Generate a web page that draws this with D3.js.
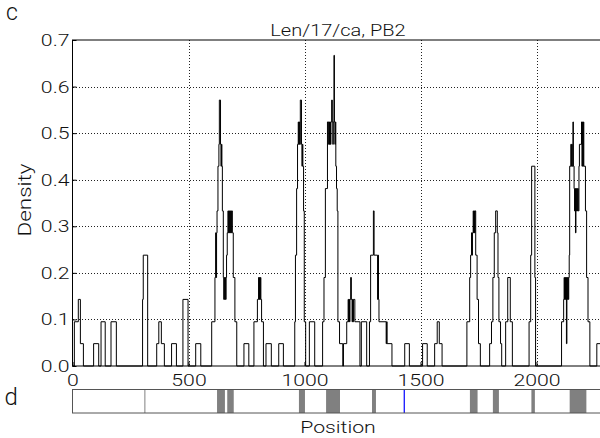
<!DOCTYPE html>
<html>
<head>
<meta charset="utf-8">
<script src="https://cdn.jsdelivr.net/npm/d3@7"></script>
<style>
  html, body { margin: 0; padding: 0; background: #fff; overflow: hidden; }
  svg text { font-family: Roboto, "Liberation Sans", Arial, sans-serif; font-weight: 300; fill: #111; }
</style>
</head>
<body>
<svg id="chart" width="600" height="438"></svg>
<script>
// Sliding-window mutation density along the PB2 segment (step changes).
const stepPos = [
  0, 8, 25, 34, 47, 91, 113, 123, 141, 166, 189,
  302, 305, 324, 363, 372, 383, 396, 427, 448, 476, 498, 531, 553,
  600, 614, 617, 619, 621, 623, 627, 631, 633, 638, 640, 642, 644, 646, 650,
  652, 654, 656, 658, 660, 662, 664, 667, 670, 672, 674, 676, 678, 680, 682, 684, 686,
  689, 693, 700, 708, 739, 760,
  782, 797, 802, 804, 806, 808, 810, 812, 815, 823, 834, 857, 889, 909,
  958, 961, 966, 970, 973, 975, 977, 979, 982, 987, 989, 991, 993, 996, 999, 1005,
  1021, 1044,
  1078, 1084, 1090, 1099, 1104, 1106, 1108, 1110, 1112, 1114, 1117, 1120, 1122, 1124,
  1127, 1129, 1131, 1133, 1135, 1138, 1141, 1144, 1151, 1165,
  1168, 1182, 1188, 1190, 1192, 1194, 1196, 1199, 1202, 1205, 1207, 1209, 1211, 1217, 1239,
  1245, 1268,
  1280, 1285, 1297, 1300, 1315, 1317, 1319, 1321, 1352, 1354, 1356, 1377,
  1432, 1452, 1509, 1529, 1561, 1572, 1581, 1593,
  1700, 1712, 1716, 1720, 1722, 1724, 1727, 1729, 1731, 1733, 1735, 1738, 1744, 1750, 1758,
  1798, 1806, 1812, 1818, 1824, 1831, 1834, 1838, 1845, 1850,
  1867, 1876, 1887, 1896,
  1968, 1975, 1979, 1993, 1996,
  2108, 2117, 2119, 2121, 2123, 2125, 2127, 2129, 2131, 2133, 2135, 2137, 2139, 2141, 2143,
  2148, 2150, 2152, 2154, 2157, 2159, 2162, 2164, 2166, 2168, 2170, 2172, 2174, 2176, 2178, 2180,
  2183, 2185, 2194, 2196, 2198, 2200, 2202, 2204, 2211, 2216, 2222, 2230,
  2260, 2285, 2341
];
const stepDensity = [
  0, 0.095, 0.143, 0.048, 0, 0.048, 0, 0.095, 0, 0.095, 0,
  0.143, 0.238, 0, 0.048, 0.095, 0.048, 0, 0.048, 0, 0.143, 0, 0.048, 0,
  0.095, 0.190, 0.286, 0.190, 0.286, 0.333, 0.429, 0.476, 0.571, 0.476, 0.429, 0.476, 0.429, 0.333, 0.190,
  0.143, 0.190, 0.143, 0.190, 0.143, 0.190, 0.238, 0.286, 0.333, 0.286, 0.333, 0.286, 0.333, 0.286, 0.333, 0.286, 0.333,
  0.286, 0.190, 0.095, 0, 0.048, 0,
  0.095, 0.143, 0.190, 0.143, 0.190, 0.143, 0.190, 0.143, 0.095, 0, 0.048, 0, 0.048, 0,
  0.095, 0.238, 0.381, 0.476, 0.524, 0.476, 0.524, 0.476, 0.571, 0.476, 0.429, 0.476, 0.429, 0.333, 0.095, 0,
  0.095, 0,
  0.095, 0.190, 0.381, 0.524, 0.476, 0.524, 0.476, 0.524, 0.476, 0.524, 0.571, 0.524, 0.476, 0.524,
  0.667, 0.524, 0.476, 0.524, 0.429, 0.381, 0.333, 0.095, 0.048, 0,
  0.048, 0.095, 0.143, 0.095, 0.143, 0.095, 0.143, 0.190, 0.143, 0.095, 0.143, 0.095, 0.143, 0.095, 0,
  0.095, 0,
  0.095, 0.238, 0.333, 0.238, 0.143, 0.238, 0.143, 0.095, 0.048, 0.095, 0.048, 0,
  0.048, 0, 0.048, 0, 0.048, 0.095, 0.048, 0,
  0.095, 0.190, 0.238, 0.286, 0.238, 0.286, 0.333, 0.286, 0.333, 0.286, 0.333, 0.238, 0.143, 0.048, 0,
  0.048, 0.095, 0.190, 0.286, 0.333, 0.286, 0.190, 0.095, 0.048, 0,
  0.095, 0.190, 0.095, 0,
  0.095, 0.238, 0.429, 0.190, 0,
  0.095, 0.143, 0.190, 0.143, 0.190, 0.143, 0.190, 0.048, 0.190, 0.143, 0.190, 0.143, 0.190, 0.238, 0.429,
  0.476, 0.429, 0.476, 0.429, 0.524, 0.429, 0.381, 0.333, 0.381, 0.286, 0.381, 0.333, 0.381, 0.333, 0.381, 0.333,
  0.429, 0.476, 0.524, 0.429, 0.524, 0.429, 0.524, 0.429, 0.333, 0.190, 0.095, 0,
  0.048, 0, 0
];

// Annotated regions on the segment map below the plot
const regionStart = [623, 667, 976, 1093, 1291, 1713, 1812, 1978, 2143];
const regionEnd   = [657, 695, 1002, 1153, 1308, 1746, 1838, 1993, 2215];
const boundaryPos = [312];
const markerPos = [1430];

const xTicks = [0, 500, 1000, 1500, 2000];
const yTicks = [0, 0.1, 0.2, 0.3, 0.4, 0.5, 0.6, 0.7];
const segmentLength = 2341;
const titleText = "Len/17/ca, PB2";

const data = stepPos.map((p, i) => ({ pos: p, v: stepDensity[i] }));

const svg = d3.select("#chart");
const plotLeft = 72.5, plotTop = 40, plotBottom = 366;
const pxPerUnit = 0.232;
const x = d3.scaleLinear().domain([0, segmentLength]).range([plotLeft, plotLeft + segmentLength * pxPerUnit]);
const y = d3.scaleLinear().domain([0, 0.7]).range([plotBottom, plotTop]);
const plotRight = x(segmentLength);
const wide = 1.25; // horizontal widening of the lettering

function widenText(sel) {
  sel.each(function () {
    const t = d3.select(this);
    const ax = +(t.attr("x") || 0);
    t.attr("transform", `translate(${ax},0) scale(${wide},1) translate(${-ax},0)`);
  });
}

// dotted grid
const grid = svg.append("g").attr("stroke", "#222").attr("stroke-width", 1)
  .attr("stroke-dasharray", "1,2").attr("shape-rendering", "crispEdges");
grid.selectAll("line.gy").data(yTicks.filter(v => v > 0 && v < 0.7)).join("line")
  .attr("x1", plotLeft).attr("x2", plotRight)
  .attr("y1", d => Math.round(y(d)) + 0.5).attr("y2", d => Math.round(y(d)) + 0.5);
grid.selectAll("line.gx").data(xTicks.filter(v => v > 0)).join("line")
  .attr("y1", plotTop).attr("y2", plotBottom)
  .attr("x1", d => Math.round(x(d)) + 0.5).attr("x2", d => Math.round(x(d)) + 0.5);

// density trace
const line = d3.line().x(d => x(d.pos)).y(d => y(d.v)).curve(d3.curveStepAfter);
svg.append("path").datum(data).attr("d", line)
  .attr("fill", "none").attr("stroke", "#000").attr("stroke-width", 1);

// frame
svg.append("rect").attr("x", plotLeft).attr("y", plotTop)
  .attr("width", plotRight - plotLeft).attr("height", plotBottom - plotTop)
  .attr("fill", "none").attr("stroke", "#000").attr("stroke-width", 1);

// axes
const yAxis = svg.append("g").attr("transform", `translate(${plotLeft},0)`)
  .call(d3.axisLeft(y).tickValues(yTicks).tickFormat(d3.format(".1f")).tickSize(-4).tickSizeOuter(0).tickPadding(3));
const xAxis = svg.append("g").attr("transform", `translate(0,${plotBottom})`)
  .call(d3.axisBottom(x).tickValues(xTicks).tickFormat(d3.format("d")).tickSize(-4).tickSizeOuter(0).tickPadding(8));
[yAxis, xAxis].forEach(g => {
  g.select(".domain").remove();
  g.selectAll("line").attr("stroke", "#000");
  g.selectAll("text").attr("font-size", 17)
    .attr("font-family", null).attr("fill", "#111").call(widenText);
});

// segment map
const barTop = 389.5, barBottom = 413;
svg.append("g").selectAll("rect").data(regionStart).join("rect")
  .attr("x", d => x(d)).attr("width", (d, i) => x(regionEnd[i]) - x(d))
  .attr("y", barTop).attr("height", barBottom - barTop).attr("fill", "#808080");
svg.append("g").selectAll("line").data(boundaryPos).join("line")
  .attr("x1", d => x(d)).attr("x2", d => x(d)).attr("y1", barTop).attr("y2", barBottom)
  .attr("stroke", "#808080").attr("stroke-width", 1);
svg.append("g").selectAll("line").data(markerPos).join("line")
  .attr("x1", d => x(d)).attr("x2", d => x(d)).attr("y1", barTop).attr("y2", barBottom)
  .attr("stroke", "#0000ff").attr("stroke-width", 1.2);
svg.append("rect").attr("x", plotLeft).attr("y", barTop)
  .attr("width", plotRight - plotLeft).attr("height", barBottom - barTop)
  .attr("fill", "none").attr("stroke", "#555").attr("stroke-width", 1);

// labels
function label(txt, px, py, size, anchor, rotate) {
  const t = svg.append("text").text(txt).attr("font-size", size).attr("text-anchor", anchor);
  const rot = rotate ? ` rotate(${rotate})` : "";
  t.attr("transform", `translate(${px},${py})${rot} scale(${wide},1)`);
  return t;
}
label(titleText, 338, 36, 16, "middle");
label("Density", 31, 200, 18, "middle", -90);
label("Position", 338, 433, 17, "middle");
svg.append("text").text("c").attr("x", 6).attr("y", 20).attr("font-size", 23);
svg.append("text").text("d").attr("x", 4.5).attr("y", 405).attr("font-size", 24);
</script>
</body>
</html>
